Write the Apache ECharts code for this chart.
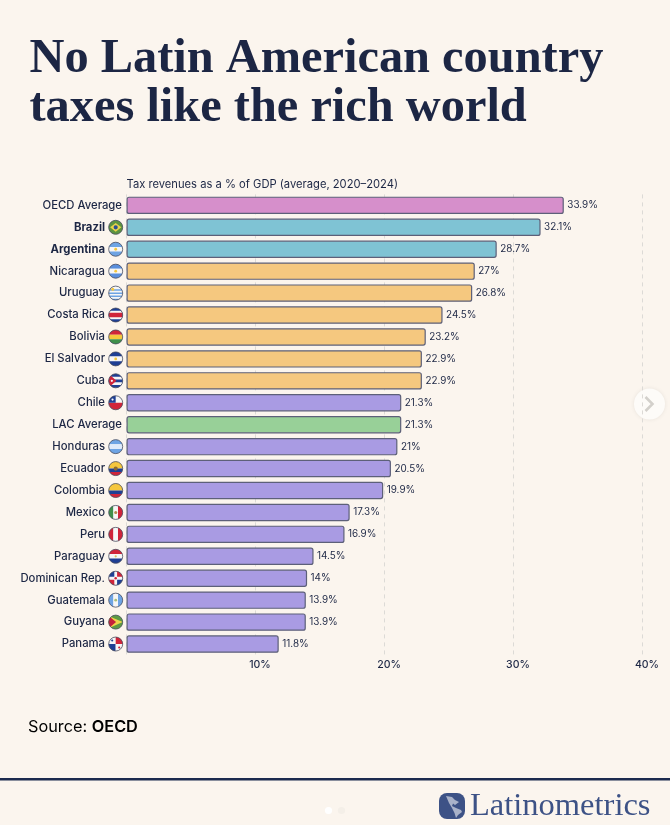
<!DOCTYPE html>
<html><head><meta charset="utf-8">
<style>html,body{margin:0;padding:0;background:#fbf5ee}#c{width:670px;height:825px}</style>
<script src="https://cdn.jsdelivr.net/npm/echarts@6/dist/echarts.min.js"></script>
</head><body><div id="c"></div>
<script>
const titleLines = ['No Latin American country', 'taxes like the rich world'];
const subtitle = 'Tax revenues as a % of GDP (average, 2020–2024)';
const categories = ['OECD Average','Brazil','Argentina','Nicaragua','Uruguay','Costa Rica','Bolivia','El Salvador','Cuba','Chile','LAC Average','Honduras','Ecuador','Colombia','Mexico','Peru','Paraguay','Dominican Rep.','Guatemala','Guyana','Panama'];
const values = [33.9,32.1,28.7,27,26.8,24.5,23.2,22.9,22.9,21.3,21.3,21,20.5,19.9,17.3,16.9,14.5,14,13.9,13.9,11.8];
const groups = ['oecd','focus','focus','high','high','high','high','high','high','low','lac','low','low','low','low','low','low','low','low','low','low'];
const boldNames = ['Brazil','Argentina'];
const noFlag = ['OECD Average','LAC Average'];
const xTicks = [0,10,20,30,40];

const groupColors = {oecd:'#d68fcb',focus:'#7fc3d4',high:'#f5c87f',low:'#a99be3',lac:'#98d098'};
const ink = '#1c2644';
const FONT = 'Inter, "Noto Sans", sans-serif';

// Flag art, in unit-circle coordinates
const R=(x0,y0,x1,y1)=>[[x0,y0],[x1,y0],[x1,y1],[x0,y1]];
const B='#3f6fc0',SKY='#6ea4e4',W='#f6f6f6',RD='#d0243a',Y='#f5c73d',G='#3f8f4a',NAVY='#1f3f94';
const sun=[['c',Y,0,0,0.2]];
const flags={
 'Brazil':[[ '#5c9440',R(-1,-1,1,1)],['#e9d24a',[[-0.8,0],[0,-0.62],[0.8,0],[0,0.62]]],['c','#2a4f93',0,0,0.3]],
 'Argentina':[[SKY,R(-1,-1,1,-.33)],[W,R(-1,-.33,1,.33)],[SKY,R(-1,.33,1,1)],...sun],
 'Nicaragua':[['#5a8fdc',R(-1,-1,1,-.33)],[W,R(-1,-.33,1,.33)],['#5a8fdc',R(-1,.33,1,1)],...sun],
 'Uruguay':[[W,R(-1,-1,1,1)],[SKY,R(-1,-.55,1,-.33)],[SKY,R(-1,-.1,1,.12)],[SKY,R(-1,.35,1,.57)],[SKY,R(-1,.8,1,1)],['c',Y,-.42,-.55,.22]],
 'Costa Rica':[[NAVY,R(-1,-1,1,1)],[W,R(-1,-.62,1,.62)],[RD,R(-1,-.33,1,.33)]],
 'Bolivia':[[RD,R(-1,-1,1,-.33)],[Y,R(-1,-.33,1,.33)],[G,R(-1,.33,1,1)]],
 'El Salvador':[[NAVY,R(-1,-1,1,-.33)],[W,R(-1,-.33,1,.33)],[NAVY,R(-1,.33,1,1)],...sun],
 'Cuba':[[NAVY,R(-1,-1,1,1)],[W,R(-1,-.6,1,-.2)],[W,R(-1,.2,1,.6)],[RD,[[-1,-1],[.1,0],[-1,1]]],['c',W,-.55,0,.16]],
 'Chile':[[W,R(-1,-1,1,0)],[RD,R(-1,0,1,1)],[NAVY,R(-1,-1,0,0)],['c',W,-.45,-.45,.16]],
 'Honduras':[[SKY,R(-1,-1,1,-.33)],['#dfeafa',R(-1,-.33,1,.33)],[SKY,R(-1,.33,1,1)]],
 'Ecuador':[[Y,R(-1,-1,1,0)],[NAVY,R(-1,0,1,.5)],[RD,R(-1,.5,1,1)],['c','#8a6a30',0,0,.3]],
 'Colombia':[[Y,R(-1,-1,1,0)],[NAVY,R(-1,0,1,.5)],[RD,R(-1,.5,1,1)]],
 'Mexico':[[G,R(-1,-1,-.33,1)],[W,R(-.33,-1,.33,1)],[RD,R(.33,-1,1,1)],['c','#b08a4a',0,0,.22]],
 'Peru':[[RD,R(-1,-1,-.33,1)],[W,R(-.33,-1,.33,1)],[RD,R(.33,-1,1,1)]],
 'Paraguay':[[RD,R(-1,-1,1,-.33)],[W,R(-1,-.33,1,.33)],[NAVY,R(-1,.33,1,1)],['c','#d8c060',0,0,.16]],
 'Dominican Rep.':[[NAVY,R(-1,-1,0,0)],[RD,R(0,-1,1,0)],[RD,R(-1,0,0,1)],[NAVY,R(0,0,1,1)],[W,R(-1,-.2,1,.2)],[W,R(-.2,-1,.2,1)],['c',RD,0,0,.18]],
 'Guatemala':[[SKY,R(-1,-1,-.33,1)],[W,R(-.33,-1,.33,1)],[SKY,R(.33,-1,1,1)],['c','#a9bf7a',0,0,.2]],
 'Guyana':[['#5c9a45',R(-1,-1,1,1)],['#efd34a',[[-1,-.85],[1,0],[-1,.85]]],['#c5203a',[[-1,-.9],[.05,0],[-1,.9]]]],
 'Panama':[[W,R(-1,-1,0,0)],[RD,R(0,-1,1,0)],[NAVY,R(-1,0,0,1)],[W,R(0,0,1,1)],['c',NAVY,-.5,-.5,.15],['c',RD,.5,.5,.15]]
};
const circlePts=Array.from({length:60},(_,i)=>[Math.cos(i/60*2*Math.PI),Math.sin(i/60*2*Math.PI)]);
function clipTo(subject,clip){
  let out=subject;
  for(let i=0;i<clip.length;i++){
    const a=clip[i],b=clip[(i+1)%clip.length],inp=out;out=[];
    const side=p=>(b[0]-a[0])*(p[1]-a[1])-(b[1]-a[1])*(p[0]-a[0]);
    for(let j=0;j<inp.length;j++){
      const p=inp[j],q=inp[(j+1)%inp.length],sp=side(p),sq=side(q);
      if(sp>=0)out.push(p);
      if((sp>=0)!==(sq>=0)){const t=sp/(sp-sq);out.push([p[0]+t*(q[0]-p[0]),p[1]+t*(q[1]-p[1])]);}
    }
  }
  return out;
}
function flagItem(params,api){
  const name=categories[api.value(1)];
  const pt=api.coord([0,api.value(1)]);
  const cx=pt[0]-10.8,cy=pt[1],r=7;
  const kids=(flags[name]||[]).map(s=>{
    if(s[0]==='c')return{type:'circle',shape:{cx:cx+s[2]*r,cy:cy+s[3]*r,r:s[4]*r},style:{fill:s[1]}};
    return{type:'polygon',shape:{points:clipTo(circlePts,s[1]).map(p=>[cx+p[0]*r,cy+p[1]*r])},style:{fill:s[0]}};
  });
  kids.push({type:'circle',shape:{cx,cy,r},style:{fill:'none',stroke:'#4a4e60',lineWidth:.8}});
  return{type:'group',children:kids};
}

const chart=echarts.init(document.getElementById('c'),null,{renderer:'canvas'});
chart.setOption({
  backgroundColor:'#fbf5ee',
  animation:false,
  textStyle:{fontFamily:FONT},
  title:{left:29.5,top:35,padding:0,text:titleLines.join('\n'),textStyle:{fontFamily:'"Liberation Serif",serif',fontSize:48.4,fontWeight:700,lineHeight:49,color:ink}},
  grid:{left:126.5,top:194.4,width:516,height:460.6,containLabel:false},
  xAxis:{type:'value',min:0,max:40,interval:10,
    axisLine:{show:false},axisTick:{show:false},
    splitLine:{show:true,lineStyle:{type:[4,4],color:'#dcdad6',width:1}},
    axisLabel:{margin:4,fontSize:10.5,fontWeight:500,color:ink,padding:[0,0,0,9],showMinLabel:false,
      formatter:v=>xTicks.includes(v)&&v?v+'%':''}},
  yAxis:{type:'category',inverse:true,data:categories,
    axisLine:{show:false},axisTick:{show:false},
    axisLabel:{margin:4.5,interval:0,
      formatter:n=>{
        const s=noFlag.includes(n)?'n':boldNames.includes(n)?'b':'f';
        return '{'+s+'|'+n+'}';
      },
      rich:{
        n:{fontSize:11.3,fontWeight:500,color:ink,fontFamily:FONT},
        f:{fontSize:11.3,fontWeight:500,color:ink,fontFamily:FONT,padding:[0,17,0,0]},
        b:{fontSize:11.3,color:ink,fontWeight:700,fontFamily:FONT,padding:[0,17,0,0]}
      }}},
  series:[
    {type:'bar',barWidth:17.4,
     data:values.map((v,i)=>({value:v,itemStyle:{color:groupColors[groups[i]]}})),
     itemStyle:{borderColor:'#5d6079',borderWidth:1.2,borderRadius:2},
     label:{show:true,position:'right',distance:3.5,fontSize:9.9,color:ink,formatter:'{c}%'}},
    {type:'custom',silent:true,clip:false,z:5,renderItem:flagItem,
     encode:{x:0,y:1},
     data:categories.map((n,i)=>[0,i]).filter(d=>!noFlag.includes(categories[d[1]]))}
  ],
  graphic:[
    {type:'text',left:126.5,top:179,style:{text:subtitle,fontSize:11.2,fontFamily:FONT,fill:ink}},
    {type:'text',left:28,top:719,style:{text:'{a|Source: }{b|OECD}',fontFamily:FONT,
       rich:{a:{fontSize:16.3,fontFamily:FONT,color:ink},b:{fontSize:16.3,fontFamily:FONT,fontWeight:600,color:ink}}}},
    {type:'rect',shape:{x:0,y:778,width:670,height:2.4},style:{fill:'#1b2a4e'}},
    {type:'circle',shape:{cx:649.5,cy:404,r:15.5},style:{fill:'#fdfbf8',shadowBlur:4,shadowColor:'rgba(0,0,0,.08)'}},
    {type:'polyline',shape:{points:[[645.5,397],[652.5,404],[645.5,411]]},style:{fill:'none',stroke:'#d3d0cb',lineWidth:2.6}},
    {type:'circle',shape:{cx:328.5,cy:810.5,r:3.6},style:{fill:'#ffffff'}},
    {type:'circle',shape:{cx:341.5,cy:810.5,r:3.6},style:{fill:'#f4efe8'}},
    {type:'rect',shape:{x:439,y:793,width:26,height:26,r:8},style:{fill:'#3d5286'}},
    {type:'polygon',shape:{points:[[446,796],[452,797],[455,800],[459,802],[455,805],[453,803.5],[452,806],[456,808],[461,810],[462,812],[458,815],[456,818],[454.5,813],[452,808],[449,803]]},style:{fill:'#a9b2c9'}},
    {type:'text',left:470,top:790,style:{text:'Latinometrics',fontFamily:'"Liberation Serif",serif',fontSize:32.5,fill:'#3d5286'}}
  ]
});
</script></body></html>
